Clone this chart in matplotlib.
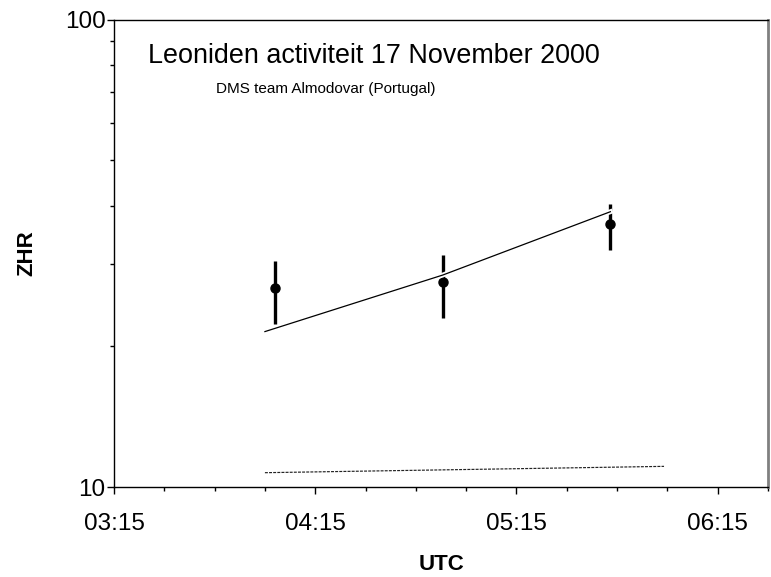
import matplotlib
matplotlib.use("Agg")
import matplotlib.pyplot as plt
import matplotlib.dates as mdates
import matplotlib.patheffects as pe
from matplotlib import font_manager
from matplotlib.ticker import LogLocator, NullFormatter, FixedLocator, FixedFormatter
import pandas as pd

plt.rcParams['font.family'] = ['Liberation Sans', 'DejaVu Sans']

# ---- data ----
obs_times = ["04:03", "04:53", "05:43"]
zhr = [26.7, 27.5, 36.5]
zhr_low = [22.3, 23.0, 32.1]
zhr_high = [30.4, 31.4, 40.3]

fit_times = ["04:00", "04:53", "05:43"]
fit_zhr = [21.5, 28.4, 38.8]

base_times = ["04:00", "05:59"]
base_zhr = [10.73, 11.07]

xlim_times = ["03:15", "06:30"]
major_tick_times = ["03:15", "04:15", "05:15", "06:15"]

title = "Leoniden activiteit 17 November 2000"
subtitle = "DMS team Almodovar (Portugal)"


def to_dt(ts):
    return pd.to_datetime(["2000-11-17 " + t for t in ts])


names = {f.name for f in font_manager.fontManager.ttflist}
narrow_available = "Liberation Sans Narrow" in names

x_obs = to_dt(obs_times)
x_fit = to_dt(fit_times)
x_base = to_dt(base_times)

fig = plt.figure(figsize=(7.71, 5.77), dpi=100)
ax = fig.add_axes([114 / 771, (577 - 487) / 577, (768 - 114) / 771, (487 - 19.5) / 577])

yerr = [[z - l for z, l in zip(zhr, zhr_low)], [h - z for z, h in zip(zhr, zhr_high)]]
ax.errorbar(x_obs, zhr, yerr=yerr, fmt='o', color='black', ms=6.5,
            elinewidth=2.4, capsize=0, zorder=3)

ax.plot(x_fit, fit_zhr, color='black', lw=0.9, zorder=4,
        path_effects=[pe.Stroke(linewidth=3.5, foreground='white'), pe.Normal()])

ax.plot(x_base, base_zhr, color='#222222', lw=0.85, ls=(0, (2.5, 1.0)), zorder=2)

ax.set_yscale('log')
ax.set_ylim(10, 100)
xl = to_dt(xlim_times)
ax.set_xlim(xl[0], xl[1])

ax.yaxis.set_major_locator(FixedLocator([10, 100]))
ax.yaxis.set_major_formatter(FixedFormatter(["10", "100"]))
ax.yaxis.set_minor_locator(LogLocator(base=10, subs=range(2, 10)))
ax.yaxis.set_minor_formatter(NullFormatter())

ax.set_xticks(to_dt(major_tick_times))
ax.set_xticklabels(major_tick_times)
ax.xaxis.set_minor_locator(mdates.MinuteLocator(byminute=[0, 15, 30, 45]))

ax.tick_params(axis='both', which='major', direction='out', length=5, width=1,
               labelsize=17.5, color='black')
ax.tick_params(axis='both', which='minor', direction='out', length=3, width=1, color='black')
ax.tick_params(axis='x', which='major', pad=13.5)
ax.tick_params(axis='y', which='major', pad=1)

for s in ['left', 'bottom', 'top']:
    ax.spines[s].set_color('black')
    ax.spines[s].set_linewidth(1)
ax.spines['right'].set_color('#808080')
ax.spines['right'].set_linewidth(2)

ax.set_xlabel("UTC", fontsize=16, fontweight='bold', labelpad=14)
ax.set_ylabel("ZHR", fontsize=16, fontweight='bold', labelpad=20)

ax.text(0.052, 0.921, title, transform=ax.transAxes, fontsize=19.4,
        ha='left', va='center')
if narrow_available:
    ax.text(0.156, 0.852, subtitle, transform=ax.transAxes, fontsize=12.4,
            family=['Liberation Sans Narrow', 'Liberation Sans'], ha='left', va='center')
else:
    ax.text(0.156, 0.852, subtitle, transform=ax.transAxes, fontsize=11,
            ha='left', va='center')

fig.savefig("out.png", dpi=100)
